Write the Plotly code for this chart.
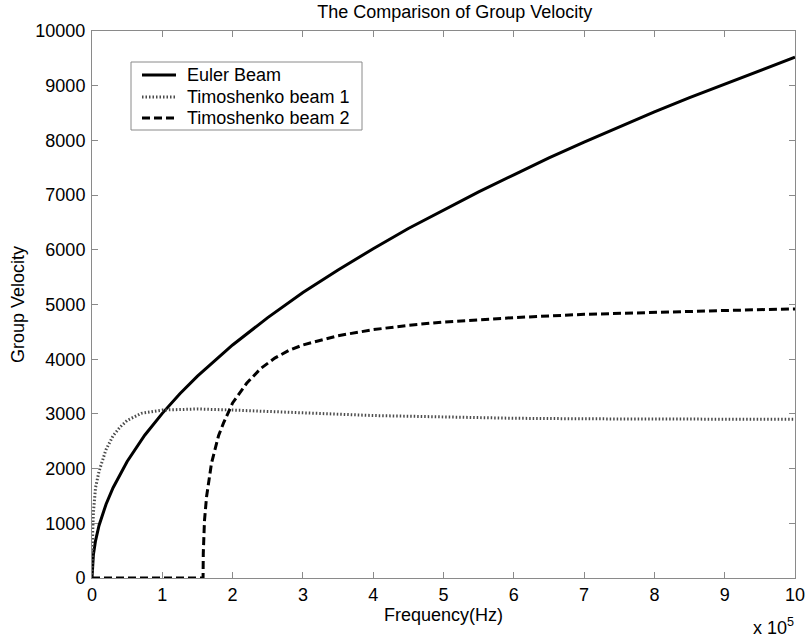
import plotly.graph_objects as go

# Frequency in units of 1e5 Hz, group velocity in m/s
euler_f = [0, 0.005, 0.02, 0.05, 0.1, 0.2, 0.3, 0.5, 0.75, 1.0, 1.25, 1.5, 1.75, 2.0, 2.5, 3.0,
           3.5, 4.0, 4.5, 5.0, 5.5, 6.0, 6.5, 7.0, 7.5, 8.0, 8.5, 9.0, 9.5, 10.0]
euler_v = [0, 220, 430, 680, 960, 1350, 1650, 2130, 2610, 3010, 3370, 3690, 3980, 4260, 4760, 5220,
           5630, 6020, 6390, 6730, 7060, 7370, 7680, 7970, 8250, 8520, 8780, 9030, 9280, 9520]

timo1_f = [0, 0.003, 0.01, 0.02, 0.05, 0.1, 0.15, 0.2, 0.3, 0.4, 0.5, 0.7, 1.0, 1.5, 2.0,
           2.5, 3.0, 4.0, 5.0, 6.0, 7.0, 8.0, 9.0, 10.0]
timo1_v = [0, 400, 850, 1200, 1650, 1950, 2170, 2350, 2600, 2760, 2880, 3010, 3070, 3090, 3070,
           3050, 3020, 2970, 2940, 2920, 2910, 2905, 2900, 2900]

timo2_f = [0, 1.58, 1.583, 1.59, 1.6, 1.63, 1.7, 1.8, 1.87, 2.0, 2.06, 2.2, 2.4, 2.6,
           2.8, 3.0, 3.5, 4.0, 4.5, 5.0, 5.5, 6.0, 7.0, 8.0, 9.0, 10.0]
timo2_v = [0, 0, 450, 800, 1050, 1490, 2100, 2600, 2830, 3200, 3310, 3560, 3830, 4020,
           4160, 4260, 4430, 4540, 4620, 4680, 4720, 4760, 4820, 4860, 4890, 4920]

x_ticks = list(range(0, 11))
y_ticks = list(range(0, 10001, 1000))

series_names = ["Euler Beam", "Timoshenko beam 1", "Timoshenko beam 2"]

FONT = "Liberation Sans, Arial, Helvetica, sans-serif"
FS = 18
AXIS_GRAY = "#8a8a8a"

W, H = 805, 639
ML, MR, MT, MB = 92, 10, 31, 61
PW, PH = W - ML - MR, H - MT - MB

styles = [
    dict(color="black", width=3),
    dict(color="#4a4a4a", width=3, dash="1.5px,2px"),
    dict(color="black", width=3, dash="8px,4px"),
]


def px_x(px):
    """Horizontal pixel -> paper fraction."""
    return (px - ML) / PW


def px_y(py):
    """Vertical pixel (from top) -> paper fraction."""
    return (H - MB - py) / PH


fig = go.Figure()
for xs, ys, name, st in zip([euler_f, timo1_f, timo2_f], [euler_v, timo1_v, timo2_v],
                            series_names, styles):
    fig.add_trace(go.Scatter(x=xs, y=ys, mode="lines", name=name, line=st, showlegend=False))

axis_common = dict(showgrid=False, zeroline=False, showline=True, linecolor=AXIS_GRAY,
                   linewidth=1, mirror="ticks", ticks="inside", ticklen=6,
                   tickcolor=AXIS_GRAY, tickfont=dict(family=FONT, size=FS, color="black"),
                   automargin=False, ticklabeloverflow="allow")

fig.update_xaxes(range=[0, 10], tickvals=x_ticks, ticktext=[str(t) for t in x_ticks],
                 title=dict(text="Frequency(Hz)", font=dict(family=FONT, size=FS, color="black"),
                            standoff=2),
                 **axis_common)
fig.update_yaxes(range=[0, 10000], tickvals=y_ticks, ticktext=[str(t) for t in y_ticks],
                 ticklabelstandoff=2,
                 title=dict(text="Group Velocity", font=dict(family=FONT, size=FS, color="black"),
                            standoff=6),
                 **axis_common)

fig.add_annotation(text="x 10<sup>5</sup>", xref="paper", yref="paper", x=px_x(796), y=px_y(626),
                   xanchor="right", yanchor="middle", showarrow=False,
                   font=dict(family=FONT, size=FS, color="black"))

# Legend box with line samples and labels
fig.add_shape(type="rect", xref="paper", yref="paper",
              x0=px_x(131), x1=px_x(362), y0=px_y(62), y1=px_y(130),
              line=dict(color=AXIS_GRAY, width=1), fillcolor="white", layer="above")
row_y = [75, 97, 118]
for name, st, ry in zip(series_names, styles, row_y):
    fig.add_shape(type="line", xref="paper", yref="paper",
                  x0=px_x(142), x1=px_x(176), y0=px_y(ry), y1=px_y(ry),
                  line=st, layer="above")
    fig.add_annotation(text=name, xref="paper", yref="paper", x=px_x(185), y=px_y(ry),
                       xanchor="left", yanchor="middle", showarrow=False,
                       font=dict(family=FONT, size=FS, color="black"))

fig.update_layout(
    width=W, height=H,
    margin=dict(l=ML, r=MR, t=MT, b=MB, autoexpand=False),
    paper_bgcolor="white", plot_bgcolor="white",
    title=dict(text="The Comparison of Group Velocity", x=0.516, xref="paper", xanchor="center",
               y=0.981, yanchor="middle", font=dict(family=FONT, size=FS, color="black")),
    font=dict(family=FONT, size=FS, color="black"),
    showlegend=False,
)

fig.write_html("out.html")
